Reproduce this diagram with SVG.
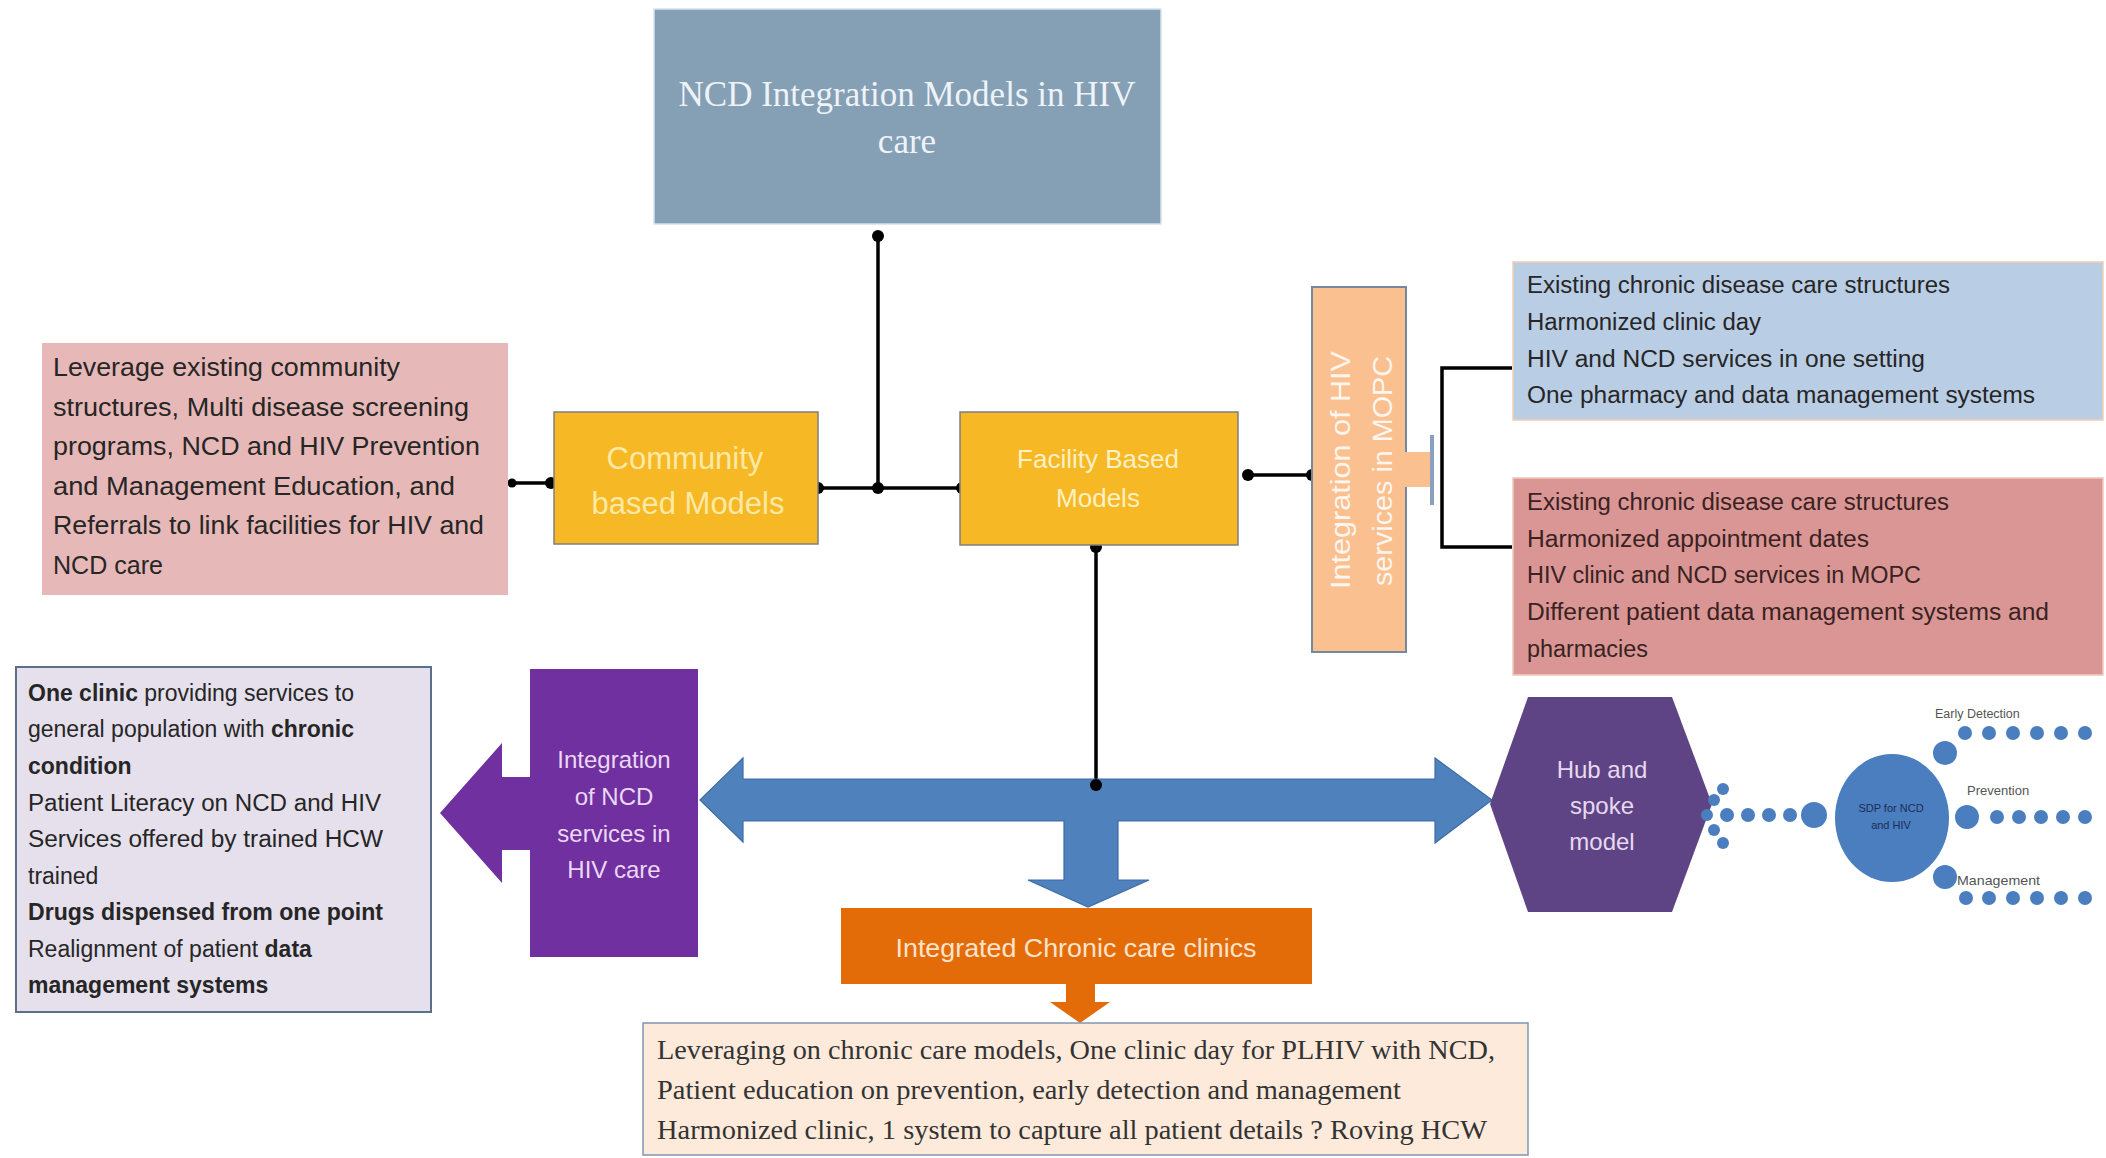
<svg xmlns="http://www.w3.org/2000/svg" width="2106" height="1158" viewBox="0 0 2106 1158">
<style>
.sans{font-family:"Liberation Sans",Arial,sans-serif}
.serif{font-family:"Liberation Serif","Times New Roman",serif}
.body{font-size:23px;fill:#262626}
.b{font-weight:bold}
.ln{fill:none;stroke:#000;stroke-width:3.5}
.dot{fill:#000}
.bd{fill:#4a7ebf}
.ctr{text-anchor:middle}
</style>
<rect width="2106" height="1158" fill="#ffffff"/>

<g id="connectors">
  <path class="ln" d="M878,236 V488"/>
  <path class="ln" d="M818,488 H962"/>
  <path class="ln" d="M510,483 H551"/>
  <path class="ln" d="M1096,547 V785"/>
  <path class="ln" d="M1248,475 H1312"/>
  <path class="ln" d="M1512,368 H1442 V547 H1512"/>
  <circle class="dot" cx="878" cy="236" r="6"/>
  <circle class="dot" cx="878" cy="488" r="6"/>
  <circle class="dot" cx="818" cy="488" r="6"/>
  <circle class="dot" cx="962" cy="488" r="6"/>
  <circle class="dot" cx="512" cy="483" r="4.5"/>
  <circle class="dot" cx="551" cy="483" r="6"/>
  <circle class="dot" cx="1096" cy="547" r="6"/>
  <circle class="dot" cx="1248" cy="475" r="6"/>
  <circle class="dot" cx="1312" cy="475" r="6"/>
  <path id="blue-arrow" d="M700,800 L743,758 L743,779 L1435,779 L1435,758 L1492,800 L1435,843 L1435,821 L1118,821 L1118,880 L1149,880 L1088,907 L1028,880 L1064,880 L1064,821 L743,821 L743,842 Z" fill="#4f81bd" stroke="#3d6ca6" stroke-width="1.2"/>
  <circle class="dot" cx="1096" cy="785" r="6"/>
</g>

<g id="title">
  <rect x="654" y="9" width="507" height="215" fill="#859fb5" stroke="#d6e2ee" stroke-width="1.5"/>
  <text class="serif ctr" x="907" y="106" font-size="35" fill="#eef3f8">NCD Integration Models in HIV</text>
  <text class="serif ctr" x="907" y="153" font-size="35" fill="#eef3f8">care</text>
</g>

<g id="community-text">
  <rect x="42" y="343" width="466" height="252" fill="#e6b9b8"/>
  <g class="sans" font-size="25" fill="#262626">
    <text x="53" y="376" textLength="347" lengthAdjust="spacingAndGlyphs">Leverage existing community</text>
    <text x="53" y="416" textLength="416" lengthAdjust="spacingAndGlyphs">structures, Multi disease screening</text>
    <text x="53" y="455" textLength="427" lengthAdjust="spacingAndGlyphs">programs, NCD and HIV  Prevention</text>
    <text x="53" y="495" textLength="402" lengthAdjust="spacingAndGlyphs">and Management  Education, and</text>
    <text x="53" y="534" textLength="431" lengthAdjust="spacingAndGlyphs">Referrals to link facilities for HIV and</text>
    <text x="53" y="574" textLength="110" lengthAdjust="spacingAndGlyphs">NCD care</text>
  </g>
</g>

<g id="community">
  <rect x="554" y="412" width="264" height="132" fill="#f6b824" stroke="#7f7f7f" stroke-width="1.5"/>
  <text class="sans ctr" x="685" y="469" font-size="31" fill="#fce9a6">Community</text>
  <text class="sans ctr" x="688" y="514" font-size="31" fill="#fce9a6">based Models</text>
</g>

<g id="facility">
  <rect x="960" y="412" width="278" height="133" fill="#f6b824" stroke="#7f7f7f" stroke-width="1.5"/>
  <text class="sans ctr" x="1098" y="468" font-size="26" fill="#fdf0c4">Facility Based</text>
  <text class="sans ctr" x="1098" y="507" font-size="26" fill="#fdf0c4">Models</text>
</g>

<g id="mopc">
  <rect x="1312" y="287" width="94" height="365" fill="#fac090" stroke="#7687a0" stroke-width="2"/>
  <rect x="1404" y="452" width="28" height="35" fill="#fac090"/>
  <path d="M1432,435 V505" stroke="#8aa0c0" stroke-width="4" fill="none"/>
  <g class="sans ctr" font-size="27" fill="#fdf5ee">
    <text transform="translate(1350,470) rotate(-90)" textLength="238" lengthAdjust="spacingAndGlyphs">Integration of HIV</text>
    <text transform="translate(1392,471) rotate(-90)" textLength="230" lengthAdjust="spacingAndGlyphs">services in MOPC</text>
  </g>
</g>

<g id="same-setting">
  <rect x="1513" y="262" width="590" height="158" fill="#b9cde5" stroke="#f3cdb0" stroke-width="1.5"/>
  <g class="sans" font-size="23" fill="#262626">
    <text x="1527" y="293" textLength="423" lengthAdjust="spacingAndGlyphs">Existing chronic disease care structures</text>
    <text x="1527" y="330" textLength="234" lengthAdjust="spacingAndGlyphs">Harmonized clinic day</text>
    <text x="1527" y="367" textLength="398" lengthAdjust="spacingAndGlyphs">HIV  and NCD services  in one setting</text>
    <text x="1527" y="403" textLength="508" lengthAdjust="spacingAndGlyphs">One pharmacy  and data management systems</text>
  </g>
</g>

<g id="separate-setting">
  <rect x="1513" y="478" width="590" height="197" fill="#d99694" stroke="#f0c8b8" stroke-width="1.5"/>
  <g class="sans" font-size="23" fill="#3a2222">
    <text x="1527" y="510" textLength="422" lengthAdjust="spacingAndGlyphs">Existing chronic disease care structures</text>
    <text x="1527" y="547" textLength="342" lengthAdjust="spacingAndGlyphs">Harmonized appointment dates</text>
    <text x="1527" y="583" textLength="394" lengthAdjust="spacingAndGlyphs">HIV clinic and NCD services in MOPC</text>
    <text x="1527" y="620" textLength="522" lengthAdjust="spacingAndGlyphs">Different patient data management systems and</text>
    <text x="1527" y="657" textLength="121" lengthAdjust="spacingAndGlyphs">pharmacies</text>
  </g>
</g>

<g id="integration-text">
  <rect x="16" y="667" width="415" height="345" fill="#e5e0ec" stroke="#5b6f8a" stroke-width="2"/>
  <g class="sans body">
    <text x="28" y="701"><tspan class="b">One clinic</tspan>  providing services to</text>
    <text x="28" y="737">general population with <tspan class="b">chronic</tspan></text>
    <text x="28" y="774" class="b">condition</text>
    <text x="28" y="811" textLength="353" lengthAdjust="spacingAndGlyphs">Patient  Literacy on NCD and HIV</text>
    <text x="28" y="847" textLength="355" lengthAdjust="spacingAndGlyphs">Services offered  by trained HCW</text>
    <text x="28" y="884">trained</text>
    <text x="28" y="920" class="b" textLength="355" lengthAdjust="spacingAndGlyphs">Drugs dispensed from one point</text>
    <text x="28" y="957">Realignment of patient <tspan class="b">data</tspan></text>
    <text x="28" y="993" class="b">management systems</text>
  </g>
</g>

<g id="integration">
  <path d="M698,669 V957 H530 V850 H502 V883 L440,813 L502,743 V777 H530 V669 Z" fill="#7030a0"/>
  <g class="sans ctr" font-size="24" fill="#ead8f5">
    <text x="614" y="768">Integration</text>
    <text x="614" y="805">of NCD</text>
    <text x="614" y="842">services in</text>
    <text x="614" y="878">HIV care</text>
  </g>
</g>

<g id="clinics">
  <path d="M841,908 H1312 V984 H1095 V1002 H1110 L1080,1023 L1050,1002 H1066 V984 H841 Z" fill="#e36c09"/>
  <text class="sans ctr" x="1076" y="957" font-size="25" fill="#fde3cc" textLength="361" lengthAdjust="spacingAndGlyphs">Integrated Chronic care clinics</text>
</g>

<g id="clinics-text">
  <rect x="643" y="1023" width="885" height="132" fill="#fdeada" stroke="#8096b4" stroke-width="1.5"/>
  <g class="serif" font-size="27" fill="#333333">
    <text x="657" y="1059" textLength="838" lengthAdjust="spacingAndGlyphs">Leveraging on chronic care models, One clinic day for PLHIV with NCD,</text>
    <text x="657" y="1099" textLength="744" lengthAdjust="spacingAndGlyphs">Patient education on prevention, early detection and management</text>
    <text x="657" y="1139" textLength="830" lengthAdjust="spacingAndGlyphs">Harmonized  clinic, 1 system to capture all patient details ? Roving  HCW</text>
  </g>
</g>

<g id="hub">
  <polygon points="1528,697 1672,697 1712,804 1672,912 1528,912 1490,804" fill="#5f4485"/>
  <g class="sans ctr" font-size="24" fill="#e6daf0">
    <text x="1602" y="778">Hub and</text>
    <text x="1602" y="814">spoke</text>
    <text x="1602" y="850">model</text>
  </g>
  <circle class="bd" cx="1723" cy="789" r="6"/>
  <circle class="bd" cx="1714" cy="800" r="6"/>
  <circle class="bd" cx="1707" cy="815" r="6"/>
  <circle class="bd" cx="1714" cy="830" r="6"/>
  <circle class="bd" cx="1723" cy="843" r="6"/>
  <circle class="bd" cx="1727" cy="815" r="7"/>
  <circle class="bd" cx="1748" cy="815" r="7"/>
  <circle class="bd" cx="1769" cy="815" r="7"/>
  <circle class="bd" cx="1790" cy="815" r="7"/>
  <circle class="bd" cx="1814" cy="815" r="13"/>
</g>

<g id="sdp">
  <ellipse class="bd" cx="1892" cy="818" rx="57" ry="64"/>
  <text class="sans ctr" x="1891" y="812" font-size="11" fill="#1c2d55">SDP for NCD</text>
  <text class="sans ctr" x="1891" y="829" font-size="11" fill="#1c2d55">and HIV</text>
  <circle class="bd" cx="1945" cy="753" r="12"/>
  <circle class="bd" cx="1967" cy="817" r="12"/>
  <circle class="bd" cx="1945" cy="877" r="12"/>
  <text class="sans" x="1935" y="718" font-size="12.5" fill="#555555">Early Detection</text>
  <text class="sans" x="1967" y="795" font-size="13" fill="#555555">Prevention</text>
  <text class="sans" x="1957" y="885" font-size="13" fill="#555555" textLength="83" lengthAdjust="spacingAndGlyphs">Management</text>
  <g>
    <circle class="bd" cx="1965" cy="733" r="7"/>
    <circle class="bd" cx="1989" cy="733" r="7"/>
    <circle class="bd" cx="2013" cy="733" r="7"/>
    <circle class="bd" cx="2037" cy="733" r="7"/>
    <circle class="bd" cx="2061" cy="733" r="7"/>
    <circle class="bd" cx="2085" cy="733" r="7"/>
    <circle class="bd" cx="1997" cy="817" r="7"/>
    <circle class="bd" cx="2019" cy="817" r="7"/>
    <circle class="bd" cx="2041" cy="817" r="7"/>
    <circle class="bd" cx="2063" cy="817" r="7"/>
    <circle class="bd" cx="2085" cy="817" r="7"/>
    <circle class="bd" cx="1966" cy="898" r="7"/>
    <circle class="bd" cx="1989" cy="898" r="7"/>
    <circle class="bd" cx="2013" cy="898" r="7"/>
    <circle class="bd" cx="2037" cy="898" r="7"/>
    <circle class="bd" cx="2061" cy="898" r="7"/>
    <circle class="bd" cx="2085" cy="898" r="7"/>
  </g>
</g>
</svg>
